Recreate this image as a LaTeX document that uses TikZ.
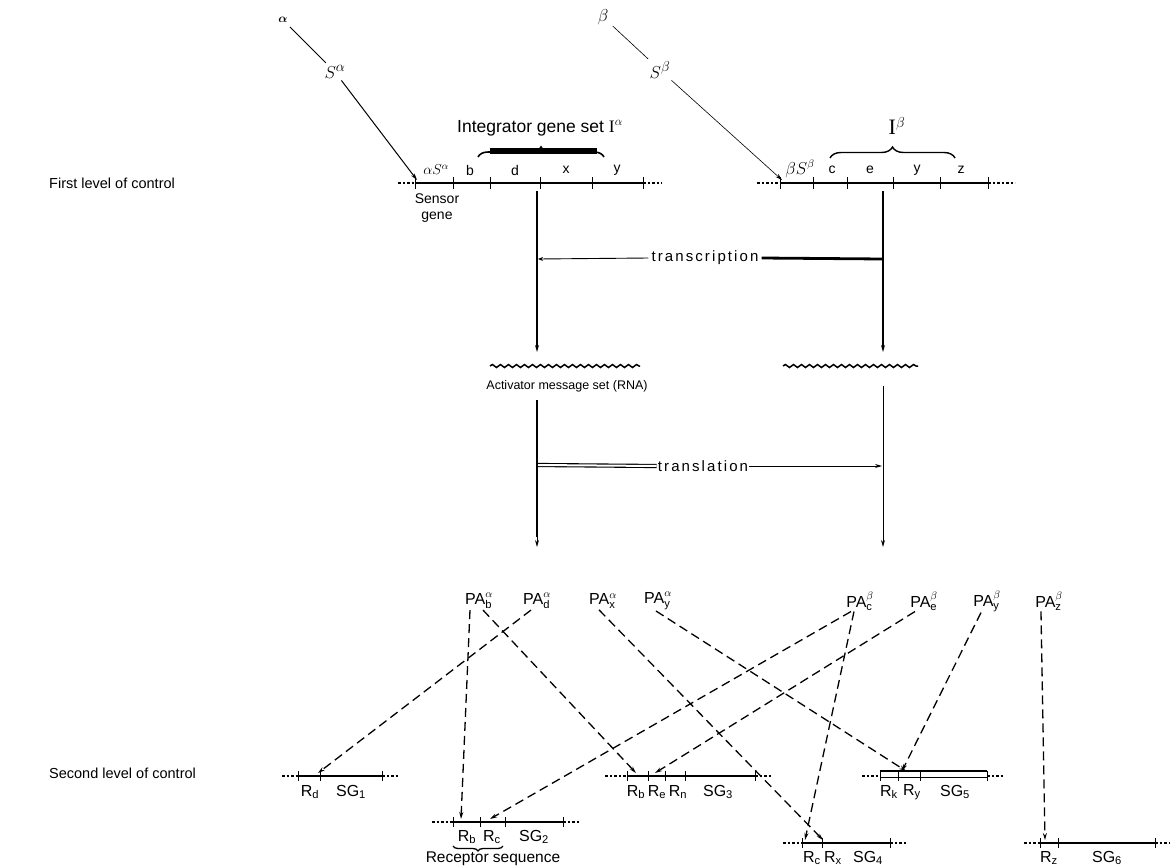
\documentclass[tikz,border=0pt]{standalone}
\usepackage{fontspec}
\setmainfont{Liberation Sans}
\newfontfamily\serifI{Liberation Serif}
\newfontfamily\spaced[LetterSpace=14]{Liberation Sans}
\usepackage{amsmath}
\usetikzlibrary{arrows.meta,decorations.pathreplacing,decorations.pathmorphing}
\tikzset{
  glbl/.style={font=\fontsize{14}{16}\selectfont, inner sep=1pt},
  big/.style={font=\fontsize{14.5}{16}\selectfont, inner sep=1pt},
  mid/.style={font=\spaced\fontsize{15}{17}\selectfont, inner sep=3pt},
  palbl/.style={font=\fontsize{16}{18}\selectfont, inner sep=1pt},
  rlbl/.style={font=\fontsize{16}{18}\selectfont, inner sep=0pt},
  greek/.style={font=\fontsize{19}{21}\selectfont, inner sep=2pt},
  gene/.style={line width=2.4pt},
  dotend/.style={line width=1.6pt, dash pattern=on 2.5pt off 2pt},
  tickmark/.style={line width=0.9pt},
  arr/.style={-{Stealth[length=7pt,width=4pt]}},
  dasharr/.style={line width=1.3pt, dash pattern=on 9pt off 5pt, -{Stealth[length=7pt,width=4pt]}},
  wavy/.style={decorate, decoration={snake, amplitude=1.5pt, segment length=8pt}, line width=1.5pt},
}
\begin{document}
\begin{tikzpicture}[x=1pt,y=-1pt]
\useasboundingbox (0,0) rectangle (1171,868);

% level labels
\node[big, anchor=west] (first) at (48,183) {First level of control};
\node[big, anchor=west] (second) at (48,773) {Second level of control};

% sensors
\node[font=\fontsize{12}{13}\selectfont, inner sep=2pt] (alpha) at (283,20) {$\boldsymbol{\alpha}$};
\node[greek] (Sa) at (335,72) {$S^{\alpha}$};
\coordinate (aTip) at (417,180);
\draw[line width=1pt, shorten <=3pt, shorten >=1pt] (alpha) -- (Sa);
\draw[line width=1pt, arr] (Sa) -- (aTip);

\node[font=\fontsize{16}{18}\selectfont, inner sep=2pt] (beta) at (603,17) {$\beta$};
\node[greek] (Sb) at (660,70) {$S^{\beta}$};
\coordinate (bTip) at (782,180);
\draw[line width=0.6pt, shorten <=3pt, shorten >=1pt] (beta) -- (Sb);
\draw[line width=0.6pt, arr] (Sb) -- (bTip);

% alpha gene
\draw[dotend] (398,183) -- (415,183);
\draw[gene] (415,183) -- (643,183);
\draw[dotend] (643,183) -- (662,183);
\foreach \x in {415,453,490,540,592,643} \draw[tickmark] (\x,177) -- (\x,189);
\node[glbl] (gaS) at (436,170) {$\alpha S^{\alpha}$};
\node[glbl] (gab) at (470,170) {b};
\node[glbl] (gad) at (515,170) {d};
\node[glbl] (gax) at (566,170) {x};
\node[glbl] (gay) at (617,170) {y};
\node[glbl, align=center] (sensor) at (437,208) {Sensor\\gene};
\node[font=\fontsize{17.5}{19}\selectfont, inner sep=1pt] (intA) at (540,128) {Integrator gene set {\serifI I}$^{\alpha}$};
\draw[decorate, decoration={brace, amplitude=10pt}, line width=1.6pt] (478,157) -- (604,157);
\fill (490,148) rectangle (597,154);

% beta gene
\draw[dotend] (757,183) -- (780,183);
\draw[gene] (780,183) -- (988,183);
\draw[dotend] (988,183) -- (1015,183);
\foreach \x in {780,813,847,893,940,988} \draw[tickmark] (\x,177) -- (\x,189);
\node[font=\fontsize{16}{18}\selectfont, inner sep=1pt] (gbS) at (800,169) {$\beta S^{\beta}$};
\node[glbl] (gbc) at (832,170) {c};
\node[glbl] (gbe) at (870,170) {e};
\node[glbl] (gby) at (917,170) {y};
\node[glbl] (gbz) at (961,170) {z};
\node[font=\fontsize{22}{24}\selectfont, inner sep=1pt] (intB) at (897,126) {{\serifI I}$^{\beta}$};
\draw[decorate, decoration={brace, amplitude=11pt}, line width=1.4pt] (830,158) -- (955,158);

% transcription
\coordinate (aTop) at (537,191);
\coordinate (aMid) at (537,352);
\coordinate (bTop) at (883,191);
\coordinate (bMid) at (883,352);
\draw[line width=1.3pt, arr] (aTop) -- (aMid);
\draw[line width=2.2pt, arr] (bTop) -- (bMid);
\node[mid] (trc) at (705,258) {transcription};
\coordinate (aTr) at (538,259);
\coordinate (bTr) at (883,259);
\draw[line width=0.9pt, -{Stealth[length=5pt,width=4pt]}] (trc.west) -- (aTr);
\draw[line width=2.8pt] (trc.east) -- (bTr);

% messages
\draw[wavy] (490,366) -- (640,366);
\draw[wavy] (783,366) -- (918,366);
\node[font=\fontsize{12.5}{14}\selectfont, inner sep=1pt] (act) at (567,386) {Activator message set (RNA)};

% translation
\coordinate (aLo) at (537,400);
\coordinate (aLb) at (537,537);
\coordinate (aEnd) at (537,547);
\coordinate (bLo) at (883,386);
\coordinate (bEnd) at (883,547);
\draw[line width=2.8pt] (aLo) -- (aLb);
\draw[line width=0.9pt, arr] (aLb) -- (aEnd);
\draw[line width=1pt, arr] (bLo) -- (bEnd);
\node[mid, inner sep=1pt] (trl) at (703,466) {translation};
\coordinate (aTl) at (538,465);
\coordinate (bTl) at (882,466);
\draw[double, double distance=2pt, line width=1.1pt] (trl.west) -- (aTl);
\draw[line width=0.9pt, arr] (trl.east) -- (bTl);

% primary activators
\node[palbl] (PAba) at (479,601) {PA$^{\alpha}_{\text{b}}$};
\node[palbl] (PAda) at (537,601) {PA$^{\alpha}_{\text{d}}$};
\node[palbl] (PAxa) at (603,601) {PA$^{\alpha}_{\text{x}}$};
\node[palbl] (PAya) at (658,601) {PA$^{\alpha}_{\text{y}}$};
\node[palbl] (PAcb) at (860,601) {PA$^{\beta}_{\text{c}}$};
\node[palbl] (PAeb) at (924,601) {PA$^{\beta}_{\text{e}}$};
\node[palbl] (PAyb) at (987,601) {PA$^{\beta}_{\text{y}}$};
\node[palbl] (PAzb) at (1049,601) {PA$^{\beta}_{\text{z}}$};

% second level genes
% SG1
\draw[dotend] (282,776) -- (298,776);
\draw[gene, line width=2pt] (298,776) -- (382,776);
\draw[dotend] (382,776) -- (398,776);
\foreach \x in {298,320,382} \draw[tickmark] (\x,771) -- (\x,781);
\node[rlbl] (Rd1l) at (310,792) {R$_{\text{d}}$};
\node[rlbl] (SG1) at (351,792) {SG$_{\text{1}}$};
% SG2
\draw[dotend] (432,822) -- (453,822);
\draw[gene, line width=2pt] (453,822) -- (563,822);
\draw[dotend] (563,822) -- (580,822);
\foreach \x in {453,480,505,563} \draw[tickmark] (\x,817) -- (\x,827);
\node[rlbl] (Rb2l) at (467,837) {R$_{\text{b}}$};
\node[rlbl] (Rc2l) at (492,837) {R$_{\text{c}}$};
\node[rlbl] (SG2) at (534,837) {SG$_{\text{2}}$};
\draw[decorate, decoration={brace, amplitude=5pt}, line width=1.3pt] (503,846) -- (453,846);
\node[font=\fontsize{15.5}{17}\selectfont, inner sep=1pt] (rec) at (493,859) {Receptor sequence};
% SG3
\draw[dotend] (605,776) -- (627,776);
\draw[gene, line width=2pt] (627,776) -- (755,776);
\draw[dotend] (755,776) -- (772,776);
\foreach \x in {627,648,665,685,755} \draw[tickmark] (\x,771) -- (\x,781);
\node[rlbl] (Rb3l) at (636,792) {R$_{\text{b}}$};
\node[rlbl] (Re3l) at (657,792) {R$_{\text{e}}$};
\node[rlbl] (Rn3l) at (678,792) {R$_{\text{n}}$};
\node[rlbl] (SG3) at (718,792) {SG$_{\text{3}}$};
% SG4
\draw[dotend] (783,843) -- (802,843);
\draw[gene, line width=2pt] (802,843) -- (890,843);
\draw[dotend] (890,843) -- (907,843);
\foreach \x in {802,822,890} \draw[tickmark] (\x,838) -- (\x,848);
\node[rlbl] (Rc4l) at (812,858) {R$_{\text{c}}$};
\node[rlbl] (Rx4l) at (833,858) {R$_{\text{x}}$};
\node[rlbl] (SG4) at (868,858) {SG$_{\text{4}}$};
% SG5
\draw[dotend] (862,776) -- (880,776);
\draw[line width=1pt] (880,771) rectangle (987,777);
\draw[line width=2.6pt] (880,771) -- (987,771);
\draw[dotend] (987,776) -- (1004,776);
\foreach \x in {880,898,920,987} \draw[tickmark] (\x,771) -- (\x,781);
\node[rlbl] (Rk5l) at (889,792) {R$_{\text{k}}$};
\node[rlbl] (Ry5l) at (912,792) {R$_{\text{y}}$};
\node[rlbl] (SG5) at (955,792) {SG$_{\text{5}}$};
% SG6
\draw[dotend] (1024,843) -- (1040,843);
\draw[gene, line width=2pt] (1040,843) -- (1155,843);
\draw[dotend] (1155,843) -- (1170,843);
\foreach \x in {1040,1058,1155} \draw[tickmark] (\x,838) -- (\x,848);
\node[rlbl] (Rz6l) at (1049,858) {R$_{\text{z}}$};
\node[rlbl] (SG6) at (1107,858) {SG$_{\text{6}}$};

% receptor targets
\coordinate (Rd1) at (318,773);
\coordinate (Rb2) at (461,819);
\coordinate (Rc2) at (490,819);
\coordinate (Rb3) at (636,773);
\coordinate (Re3) at (655,773);
\coordinate (Rc4) at (805,840);
\coordinate (Rx4) at (823,840);
\coordinate (Ry5a) at (906,771);
\coordinate (Ry5b) at (902,771);
\coordinate (Rz6) at (1045,840);

% dashed activator connectors
\draw[dasharr] ([xshift=-9pt]PAba.south) -- (Rb2);
\draw[dasharr] ([xshift=4pt]PAba.south) -- (Rb3);
\draw[dasharr] ([xshift=-6pt]PAda.south) -- (Rd1);
\draw[dasharr] ([xshift=-4pt]PAxa.south) -- (Rx4);
\draw[dasharr] ([xshift=-2pt]PAya.south) -- (Ry5a);
\draw[dasharr] ([xshift=-9pt]PAcb.south) -- (Rc2);
\draw[dasharr] ([xshift=-6pt]PAcb.south) -- (Rc4);
\draw[dasharr] ([xshift=-9pt]PAeb.south) -- (Re3);
\draw[dasharr] ([xshift=-6pt]PAyb.south) -- (Ry5b);
\draw[dasharr] ([xshift=-8pt]PAzb.south) -- (Rz6);
\end{tikzpicture}
\end{document}
